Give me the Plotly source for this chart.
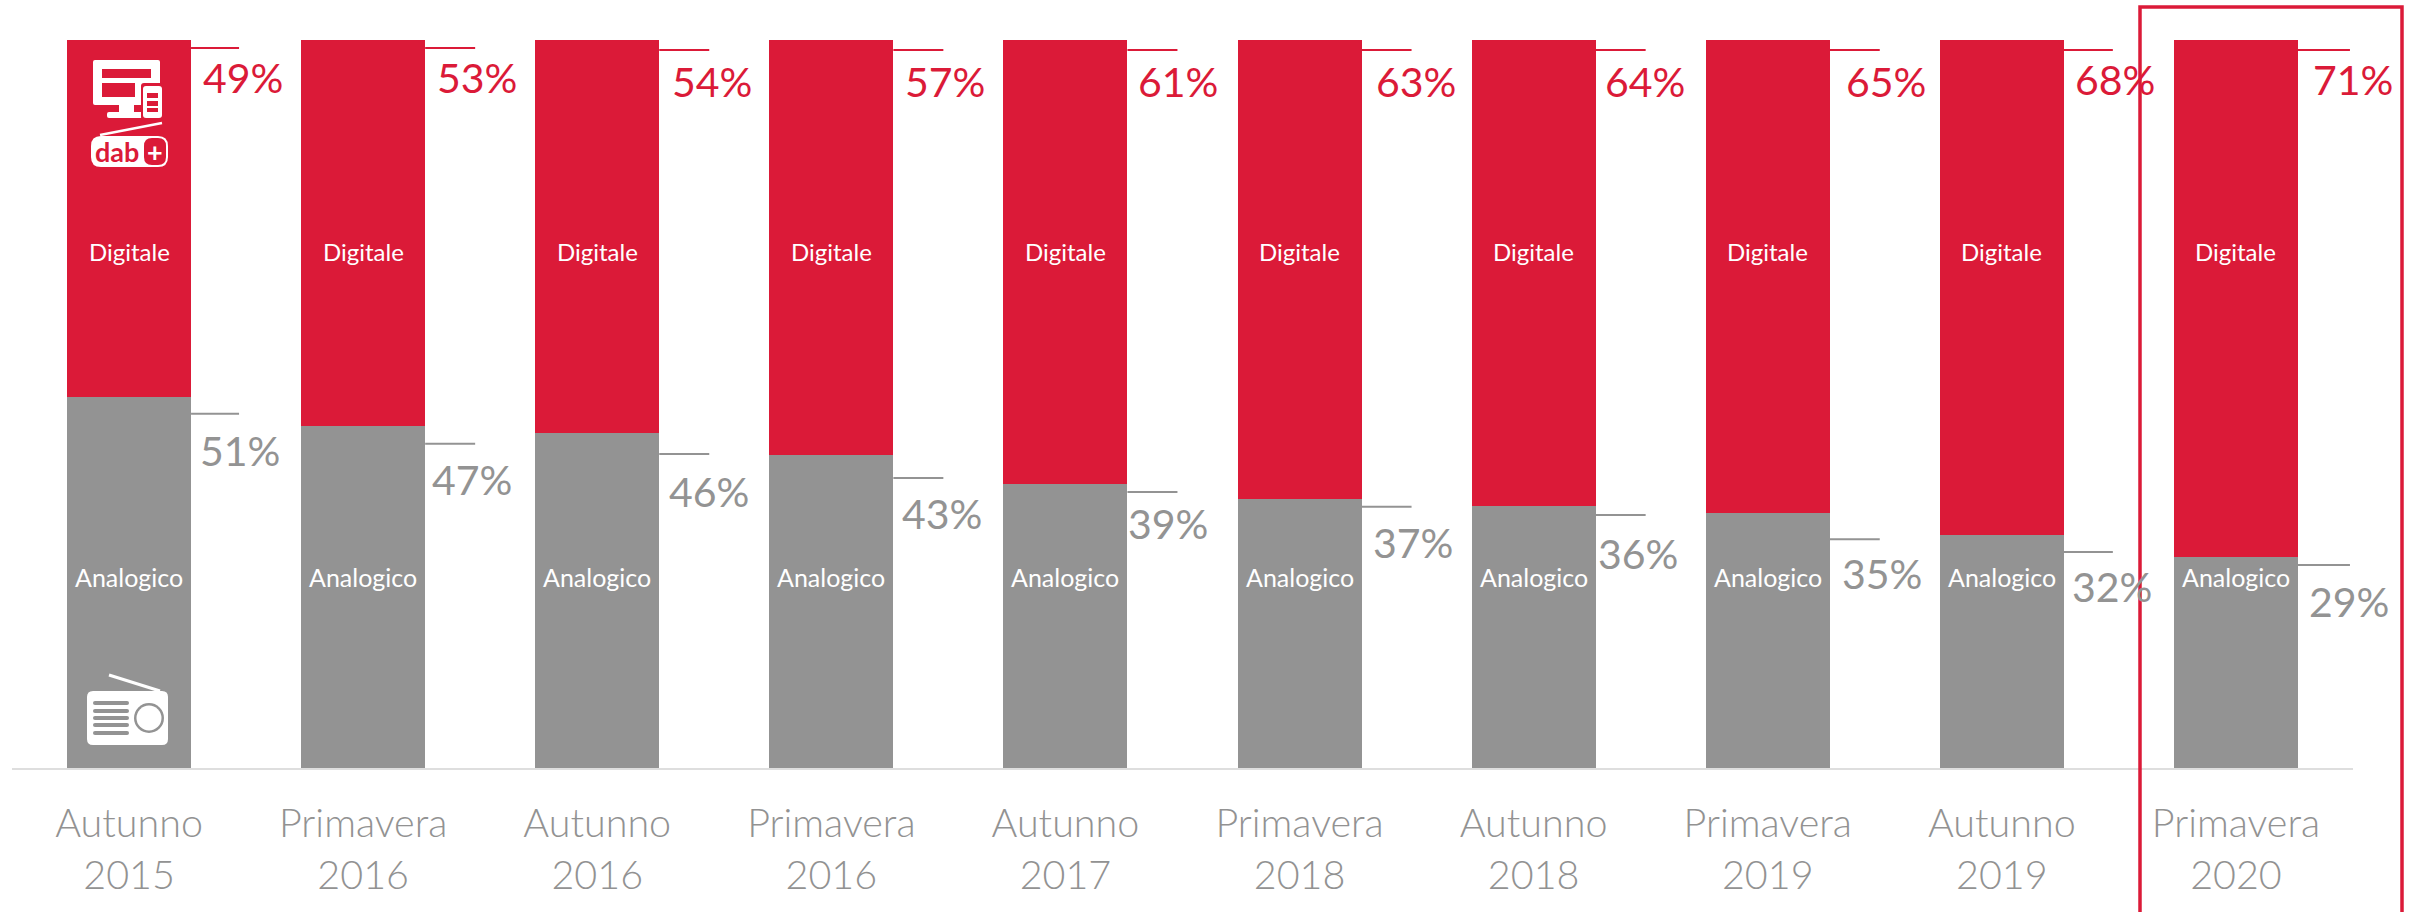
import plotly.graph_objects as go

# ---- data ----
periods = ["Autunno", "Primavera", "Autunno", "Primavera", "Autunno",
           "Primavera", "Autunno", "Primavera", "Autunno", "Primavera"]
years = ["2015", "2016", "2016", "2016", "2017", "2018", "2018", "2019", "2019", "2020"]
digitale = [49, 53, 54, 57, 61, 63, 64, 65, 68, 71]
analogico = [51, 47, 46, 43, 39, 37, 36, 35, 32, 29]
series_digitale = "Digitale"
series_analogico = "Analogico"

# ---- styling ----
RED = "#DB1A38"
GREY = "#939393"
AXIS_TXT = "#929292"
FONT = "Lato"
W, H = 2412, 912
L, R, T, B = 12, 2353, 40, 768


def px(x):
    return (x - L) / (R - L)


def py(y):
    return (B - y) / (B - T)


def rrect(x0, y0, x1, y1, r):
    X0, X1, Y0, Y1 = px(x0), px(x1), py(y0), py(y1)
    rx, ry = r / (R - L), r / (B - T)
    return (f"M{X0+rx},{Y0} L{X1-rx},{Y0} Q{X1},{Y0} {X1},{Y0-ry} L{X1},{Y1+ry} Q{X1},{Y1} {X1-rx},{Y1} "
            f"L{X0+rx},{Y1} Q{X0},{Y1} {X0},{Y1+ry} L{X0},{Y0-ry} Q{X0},{Y0} {X0+rx},{Y0} Z")


def fill_shape(path, color):
    return dict(type="path", xref="paper", yref="paper", path=path, fillcolor=color,
                line=dict(width=0), layer="above")


def line_shape(x0, y0, x1, y1, color, w):
    return dict(type="line", xref="paper", yref="paper", x0=px(x0), x1=px(x1), y0=py(y0), y1=py(y1),
                line=dict(color=color, width=w), layer="above")


def circle(cx, cy, r, color):
    return dict(type="circle", xref="paper", yref="paper", x0=px(cx - r), x1=px(cx + r), y0=py(cy - r),
                y1=py(cy + r), fillcolor=color, line=dict(width=0), layer="above")


n = len(years)
xs = list(range(n))
BAR_W = 124 / 234.1

fig = go.Figure()
fig.add_bar(x=xs, y=analogico, name=series_analogico, marker=dict(color=GREY, line=dict(width=0)), width=BAR_W)
fig.add_bar(x=xs, y=digitale, name=series_digitale, marker=dict(color=RED, line=dict(width=0)), width=BAR_W)

# label/leader placement in pixels, relative to the bars
red_lead_len = [48, 50, 50, 50, 50, 50, 50, 50, 49, 52]
red_lead_dy = [-8, -8, -10, -10, -10, -10, -10, -10, -10, -10]
red_lab_dx = [114, 114, 115, 114, 113, 116, 111, 118, 113, 117]
red_lab_dy = [-37, -37, -41, -41, -41, -41, -41, -41, -39, -39]
grey_lead_dy = [-17, -18, -21, -23, -8, -8, -9, -26, -17, -8]
grey_lab_dx = [111, 109, 112, 111, 103, 113, 104, 114, 110, 113]
grey_lab_dy = [-54, -54, -58, -59, -39, -44, -48, -60, -51, -45]

shapes = []
annotations = []
for i in xs:
    shapes.append(dict(type="line", xref="x", yref="y", xsizemode="pixel", ysizemode="pixel",
                       xanchor=i, yanchor=100, x0=62, x1=62 + red_lead_len[i],
                       y0=red_lead_dy[i], y1=red_lead_dy[i], line=dict(color=RED, width=2)))
    shapes.append(dict(type="line", xref="x", yref="y", xsizemode="pixel", ysizemode="pixel",
                       xanchor=i, yanchor=analogico[i], x0=62, x1=62 + red_lead_len[i],
                       y0=grey_lead_dy[i], y1=grey_lead_dy[i], line=dict(color=GREY, width=2)))
    annotations.append(dict(x=i, y=100, text=f"{digitale[i]}%", showarrow=False, xshift=red_lab_dx[i],
                            yshift=red_lab_dy[i], font=dict(family=FONT, size=41, color=RED)))
    annotations.append(dict(x=i, y=analogico[i], text=f"{analogico[i]}%", showarrow=False, xshift=grey_lab_dx[i],
                            yshift=grey_lab_dy[i], font=dict(family=FONT, size=41, color=GREY)))
    annotations.append(dict(x=i, y=70.9, text=series_digitale, showarrow=False,
                            font=dict(family=FONT, size=24, color="white")))
    annotations.append(dict(x=i, y=26.2, text=series_analogico, showarrow=False,
                            font=dict(family=FONT, size=25, color="white")))

# highlight frame around the last period
shapes.append(dict(type="rect", xref="paper", yref="paper", x0=px(2140), x1=px(2402), y0=py(7), y1=py(930),
                   line=dict(color=RED, width=3.5), fillcolor="rgba(0,0,0,0)", layer="above"))

# digital icon: monitor + phone
shapes += [
    fill_shape(rrect(93, 60, 160, 105, 2), "white"),
    fill_shape(rrect(102, 69, 151, 78, 0), RED),
    fill_shape(rrect(102, 83, 135, 97, 0), RED),
    fill_shape(rrect(119, 105, 134, 112, 0), "white"),
    fill_shape(rrect(107, 112, 145, 118, 2), "white"),
    fill_shape(rrect(141, 83, 164, 120, 3), RED),
    fill_shape(rrect(143, 86, 162, 118, 3), "white"),
    fill_shape(rrect(147, 93, 158, 98, 0), RED),
    fill_shape(rrect(147, 101, 158, 106, 0), RED),
    fill_shape(rrect(147, 108, 158, 112, 0), RED),
]
# dab+ badge
shapes += [
    line_shape(100, 135, 162, 123, "white", 2.5),
    fill_shape(rrect(91, 136, 168, 167, 10), "white"),
    fill_shape(rrect(144, 138, 166, 165, 8), RED),
]
annotations += [
    dict(xref="paper", yref="paper", x=px(117), y=py(151), text="<b>dab</b>", showarrow=False,
         xanchor="center", yanchor="middle", font=dict(family=FONT, size=27, color=RED)),
    dict(xref="paper", yref="paper", x=px(155), y=py(151), text="<b>+</b>", showarrow=False,
         xanchor="center", yanchor="middle", font=dict(family=FONT, size=27, color="white")),
]
# radio icon
shapes += [
    line_shape(109, 675, 160, 691, "white", 3),
    fill_shape(rrect(87, 691, 168, 745, 6), "white"),
]
for gy in (703, 711, 718, 725, 733):
    shapes.append(fill_shape(rrect(93, gy - 2, 129, gy + 2, 2), GREY))
shapes += [circle(149, 718, 15, GREY), circle(149, 718, 12.5, "white")]

fig.update_layout(
    width=W, height=H, barmode="stack", showlegend=False,
    paper_bgcolor="white", plot_bgcolor="white",
    margin=dict(l=L, r=W - R, t=T, b=H - B, autoexpand=False),
    shapes=shapes, annotations=annotations,
    font=dict(family=FONT),
    xaxis=dict(range=[-0.5, n - 0.5], tickmode="array", tickvals=xs,
               ticktext=[f"{p}<br>{y}" for p, y in zip(periods, years)],
               tickfont=dict(family=FONT, size=39.5, color=AXIS_TXT, weight=300),
               ticks="outside", ticklen=20, tickcolor="white", showline=True, linecolor="#DEDEDE", linewidth=2,
               showgrid=False, zeroline=False),
    yaxis=dict(range=[0, 100], visible=False, showgrid=False, zeroline=False),
)
fig.write_html("out.html", post_script="document.body.style.margin='0';",
               config=dict(displayModeBar=False))
